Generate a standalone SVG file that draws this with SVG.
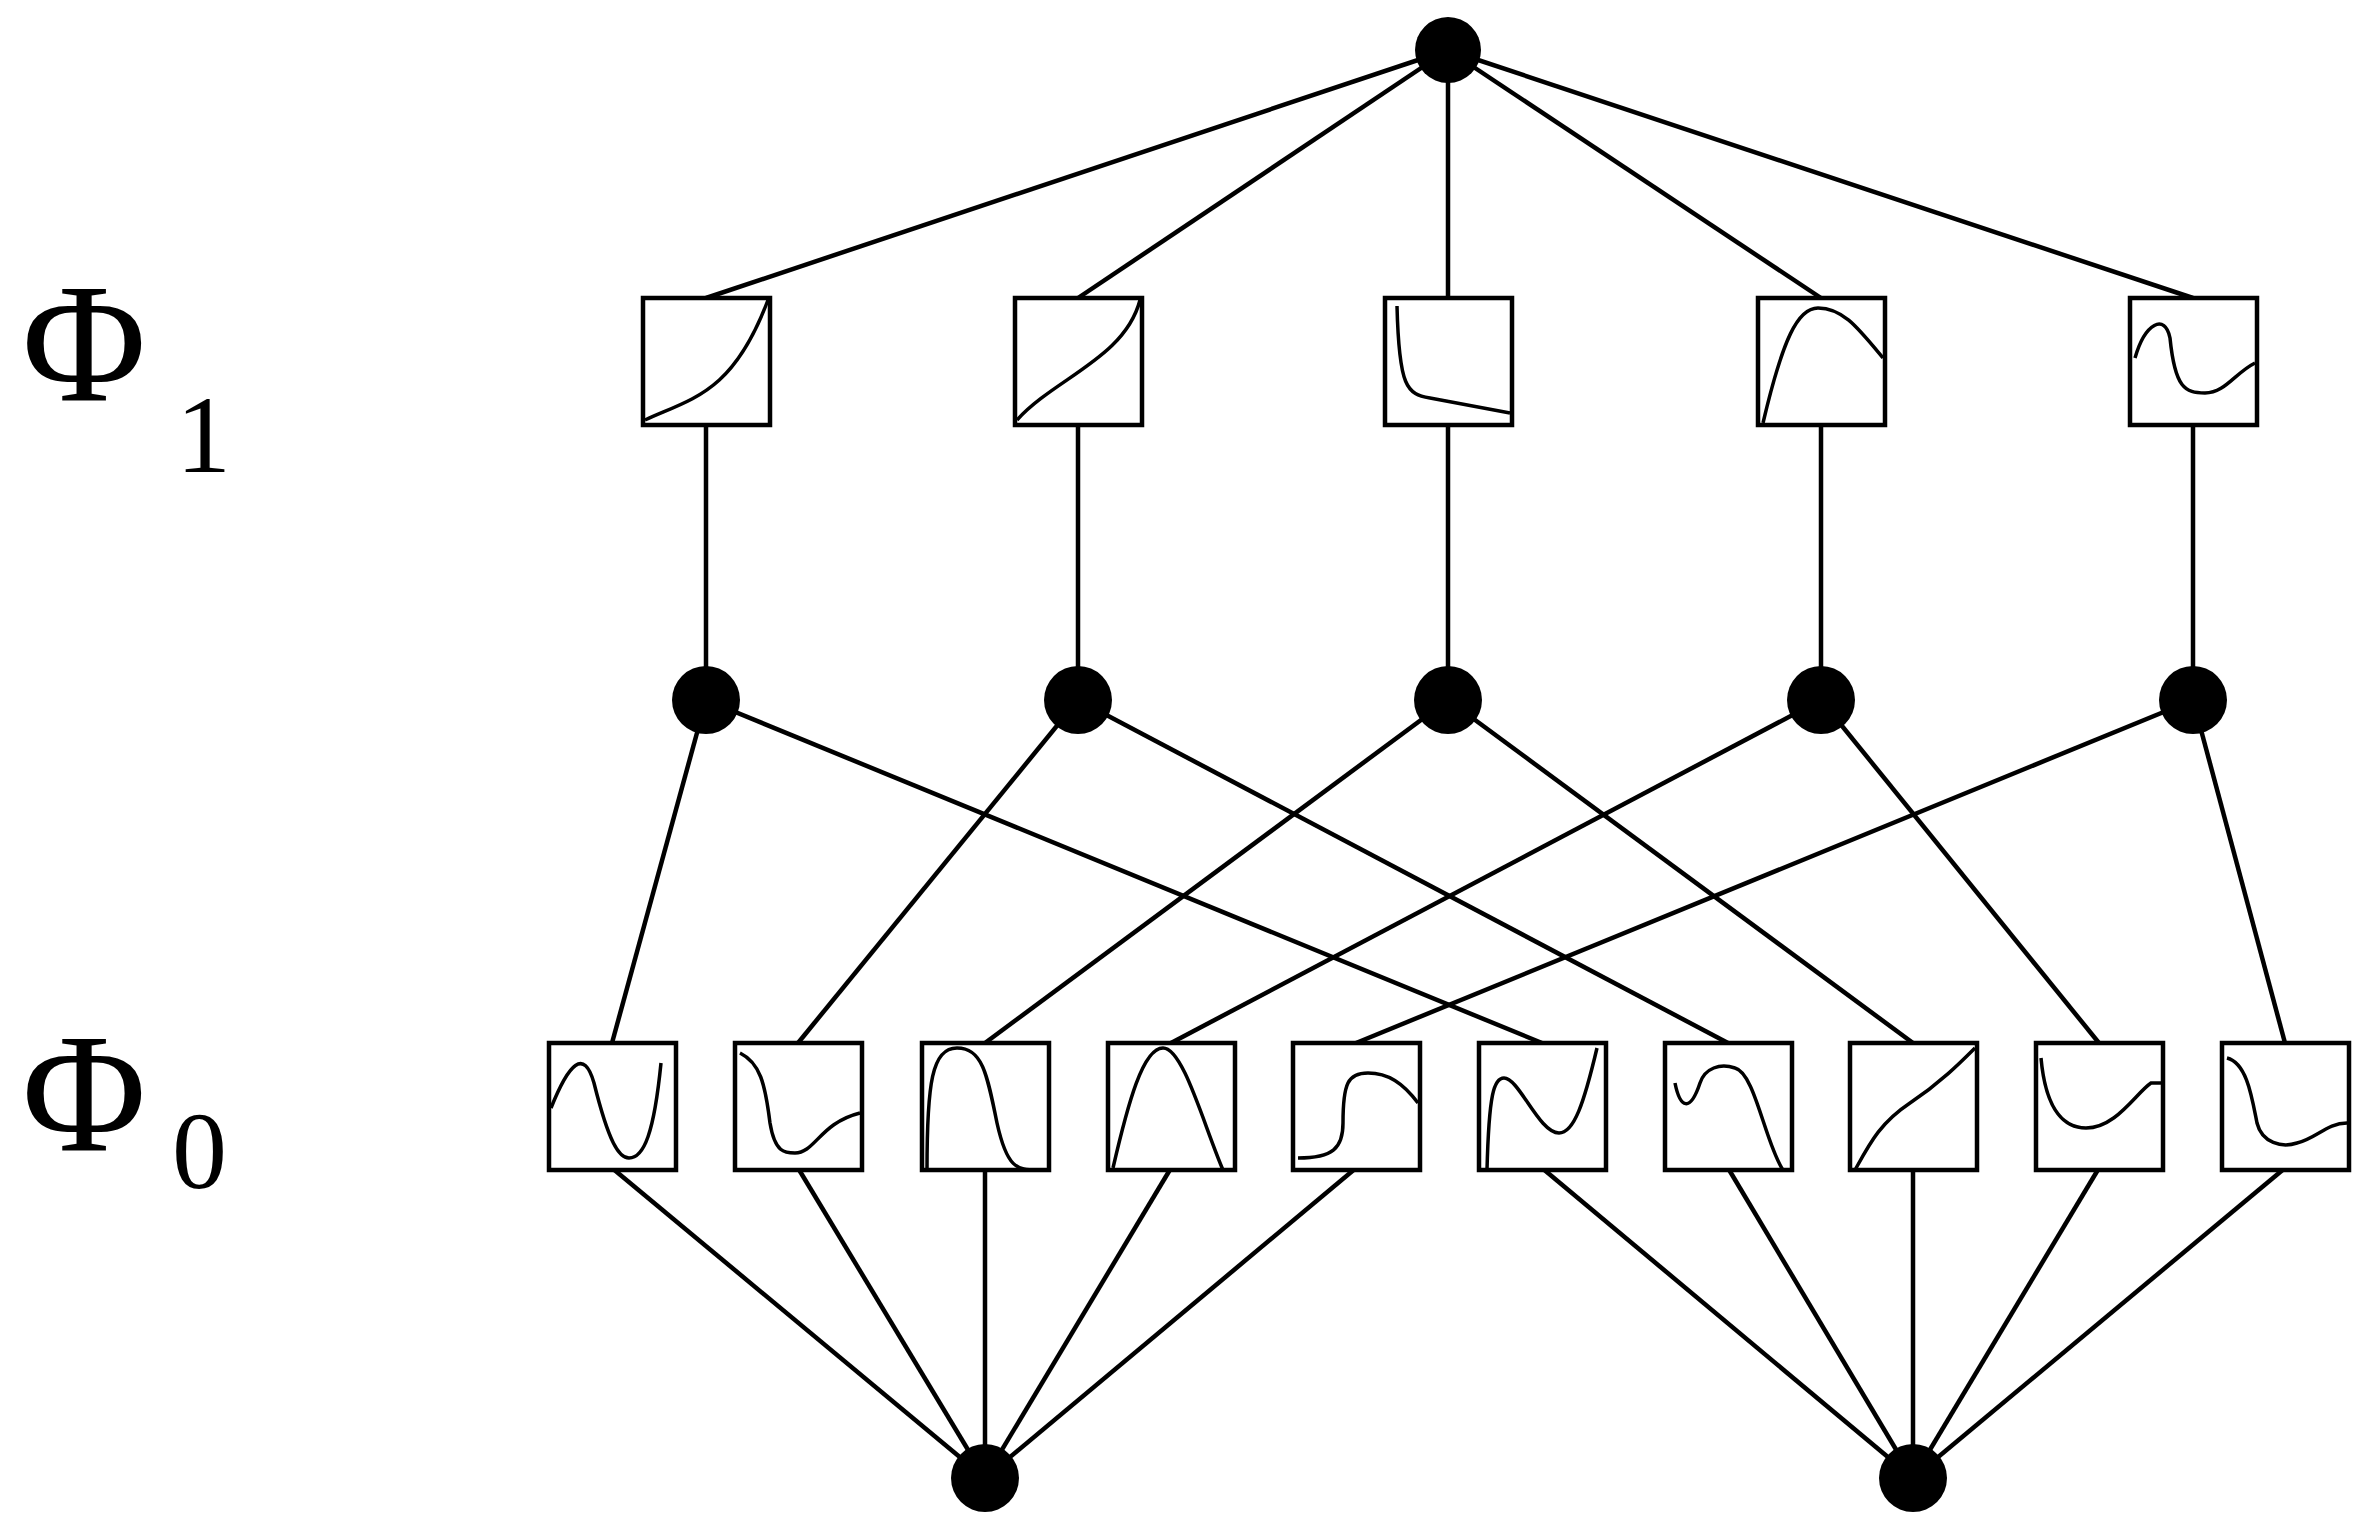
<svg xmlns="http://www.w3.org/2000/svg" width="2370" height="1528" viewBox="0 0 2370 1528">
<style>
.e{stroke:#000;stroke-width:4.5;fill:none}
.b{fill:#fff;stroke:#000;stroke-width:4.5}
.c{fill:none;stroke:#000;stroke-width:3.5}
.n{fill:#000}
.t{font-family:"Liberation Serif",serif;fill:#000}
</style>
<rect width="2370" height="1528" fill="#fff"/>
<g id="connectors" class="e">
<line x1="1448" y1="50" x2="706" y2="298"/><line x1="1448" y1="50" x2="1078" y2="298"/><line x1="1448" y1="50" x2="1448" y2="298"/><line x1="1448" y1="50" x2="1821" y2="298"/><line x1="1448" y1="50" x2="2193" y2="298"/>
<line x1="706" y1="425" x2="706" y2="700"/><line x1="1078" y1="425" x2="1078" y2="700"/><line x1="1448" y1="425" x2="1448" y2="700"/><line x1="1821" y1="425" x2="1821" y2="700"/><line x1="2193" y1="425" x2="2193" y2="700"/>
<line x1="706" y1="700" x2="612" y2="1043"/><line x1="706" y1="700" x2="1542" y2="1043"/>
<line x1="1078" y1="700" x2="798" y2="1043"/><line x1="1078" y1="700" x2="1728" y2="1043"/>
<line x1="1448" y1="700" x2="985" y2="1043"/><line x1="1448" y1="700" x2="1913" y2="1043"/>
<line x1="1821" y1="700" x2="1171" y2="1043"/><line x1="1821" y1="700" x2="2099" y2="1043"/>
<line x1="2193" y1="700" x2="1356" y2="1043"/><line x1="2193" y1="700" x2="2285" y2="1043"/>
<line x1="612" y1="1168" x2="985" y2="1478"/><line x1="798" y1="1168" x2="985" y2="1478"/><line x1="985" y1="1168" x2="985" y2="1478"/><line x1="1171" y1="1168" x2="985" y2="1478"/><line x1="1356" y1="1168" x2="985" y2="1478"/>
<line x1="1542" y1="1168" x2="1913" y2="1478"/><line x1="1728" y1="1168" x2="1913" y2="1478"/><line x1="1913" y1="1168" x2="1913" y2="1478"/><line x1="2099" y1="1168" x2="1913" y2="1478"/><line x1="2285" y1="1168" x2="1913" y2="1478"/>
</g>
<g id="top"><circle class="n" cx="1448" cy="50" r="33"/></g>
<g id="m1"><circle class="n" cx="706" cy="700" r="34"/></g>
<g id="m2"><circle class="n" cx="1078" cy="700" r="34"/></g>
<g id="m3"><circle class="n" cx="1448" cy="700" r="34"/></g>
<g id="m4"><circle class="n" cx="1821" cy="700" r="34"/></g>
<g id="m5"><circle class="n" cx="2193" cy="700" r="34"/></g>
<g id="bot1"><circle class="n" cx="985" cy="1478" r="34"/></g>
<g id="bot2"><circle class="n" cx="1913" cy="1478" r="34"/></g>
<g id="p1a" transform="translate(643,298)"><rect class="b" width="127" height="127"/><path class="c" d="M2,122 C50,100 90,95 125,2"/></g>
<g id="p1b" transform="translate(1015,298)"><rect class="b" width="127" height="127"/><path class="c" d="M2,122 C40,80 110,60 125,2"/></g>
<g id="p1c" transform="translate(1385,298)"><rect class="b" width="127" height="127"/><path class="c" d="M12,8 C14,90 22,96 45,100 L125,115"/></g>
<g id="p1d" transform="translate(1758,298)"><rect class="b" width="127" height="127"/><path class="c" d="M5,125 C25,40 40,10 60,10 C85,10 100,30 125,60"/></g>
<g id="p1e" transform="translate(2130,298)"><rect class="b" width="127" height="127"/><path class="c" d="M5,60 C15,25 35,15 40,40 C45,90 55,95 75,95 C95,95 105,75 125,65"/></g>
<g id="p0a" transform="translate(549,1043)"><rect class="b" width="127" height="127"/><path class="c" d="M2,65 C20,20 35,5 45,40 C60,100 70,115 80,115 C95,115 105,90 112,20"/></g>
<g id="p0b" transform="translate(735,1043)"><rect class="b" width="127" height="127"/><path class="c" d="M5,10 C25,20 30,40 35,80 C40,110 50,110 60,110 C80,110 85,80 125,70"/></g>
<g id="p0c" transform="translate(922,1043)"><rect class="b" width="127" height="127"/><path class="c" d="M5,127 C5,40 10,5 35,5 C60,5 65,30 75,80 C85,125 95,127 115,127"/></g>
<g id="p0d" transform="translate(1108,1043)"><rect class="b" width="127" height="127"/><path class="c" d="M5,125 C20,60 35,5 55,5 C75,5 95,80 115,127"/></g>
<g id="p0e" transform="translate(1293,1043)"><rect class="b" width="127" height="127"/><path class="c" d="M5,115 C40,115 50,105 50,80 C50,40 55,30 75,30 C95,30 110,40 125,60"/></g>
<g id="p0f" transform="translate(1479,1043)"><rect class="b" width="127" height="127"/><path class="c" d="M8,127 C10,50 15,35 25,35 C40,35 60,90 80,90 C95,90 105,60 118,5"/></g>
<g id="p0g" transform="translate(1665,1043)"><rect class="b" width="127" height="127"/><path class="c" d="M10,40 C15,65 25,70 35,40 C40,25 55,20 70,25 C90,30 100,100 118,127"/></g>
<g id="p0h" transform="translate(1850,1043)"><rect class="b" width="127" height="127"/><path class="c" d="M5,127 C20,100 30,80 60,60 C90,40 110,20 125,5"/></g>
<g id="p0i" transform="translate(2036,1043)"><rect class="b" width="127" height="127"/><path class="c" d="M5,15 C10,70 30,85 50,85 C80,85 100,50 115,40 L125,40"/></g>
<g id="p0j" transform="translate(2222,1043)"><rect class="b" width="127" height="127"/><path class="c" d="M5,15 C25,20 30,55 35,80 C40,100 60,105 75,100 C95,95 105,80 125,80"/></g>
<g id="labels" class="t">
<text x="22" y="400" font-size="170">Φ</text><text x="176" y="472" font-size="110">1</text>
<text x="22" y="1150" font-size="170">Φ</text><text x="172" y="1188" font-size="110">0</text>
</g>
</svg>
